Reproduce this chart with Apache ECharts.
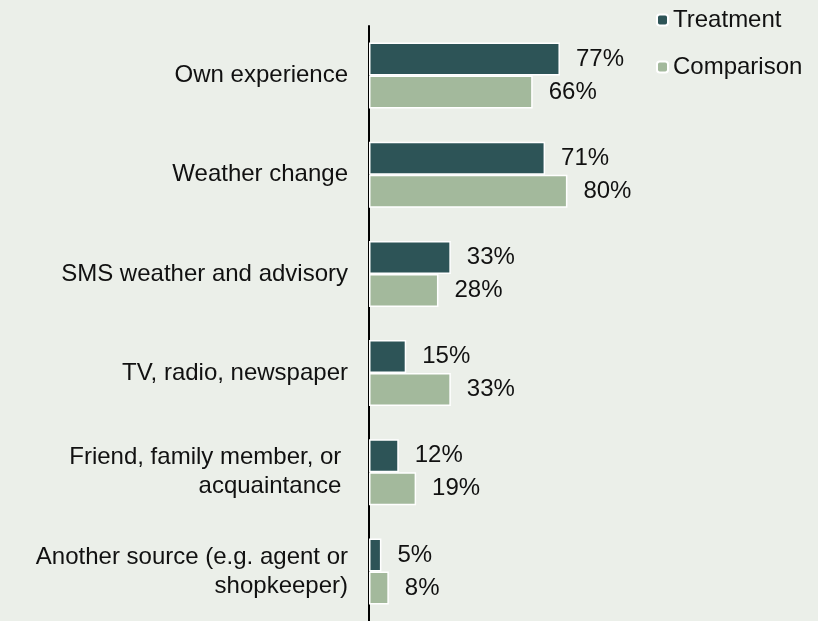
<!DOCTYPE html>
<html>
<head>
<meta charset="utf-8">
<script src="https://cdn.jsdelivr.net/npm/echarts@6/dist/echarts.min.js"></script>
<style>
  html, body { margin: 0; padding: 0; background: #ebefe9; }
  #chart { width: 818px; height: 621px; }
</style>
</head>
<body>
<div id="chart"></div>
<script>
var categories = [
    'Own experience',
    'Weather change',
    'SMS weather and advisory',
    'TV, radio, newspaper',
    'Friend, family member, or \nacquaintance ',
    'Another source (e.g. agent or\nshopkeeper)'
];
var treatment = [77, 71, 33, 15, 12, 5];
var comparison = [66, 80, 28, 33, 19, 8];

var myChart = echarts.init(document.getElementById('chart'));

var labelStyle = {
    show: true,
    position: 'right',
    distance: 16,
    formatter: '{c}%',
    fontSize: 24,
    color: '#111'
};

var option = {
    backgroundColor: '#ebefe9',
    animation: false,
    textStyle: { fontFamily: 'Liberation Sans' },
    legend: {
        orient: 'vertical',
        left: 651,
        top: 3,
        itemWidth: 11,
        itemHeight: 11,
        itemGap: 23,
        textStyle: { fontSize: 24, color: '#111' },
        data: ['Treatment', 'Comparison']
    },
    grid: {
        left: 369,
        top: 26,
        width: 248,
        height: 603
    },
    xAxis: {
        type: 'value',
        min: 0,
        max: 100,
        show: false
    },
    yAxis: {
        type: 'category',
        inverse: true,
        data: categories,
        axisLine: { lineStyle: { color: '#000', width: 2 } },
        axisTick: { show: false },
        axisLabel: {
            fontSize: 24,
            color: '#111',
            margin: 21,
            lineHeight: 29,
            align: 'right'
        }
    },
    series: [
        {
            name: 'Treatment',
            type: 'bar',
            data: treatment,
            barWidth: 33,
            barGap: '0%',
            itemStyle: { color: '#2d5457', borderColor: '#fff', borderWidth: 1.5 },
            label: labelStyle
        },
        {
            name: 'Comparison',
            type: 'bar',
            data: comparison,
            barWidth: 33,
            itemStyle: { color: '#a3b99c', borderColor: '#fff', borderWidth: 1.5 },
            label: labelStyle
        }
    ]
};

myChart.setOption(option);
</script>
</body>
</html>
